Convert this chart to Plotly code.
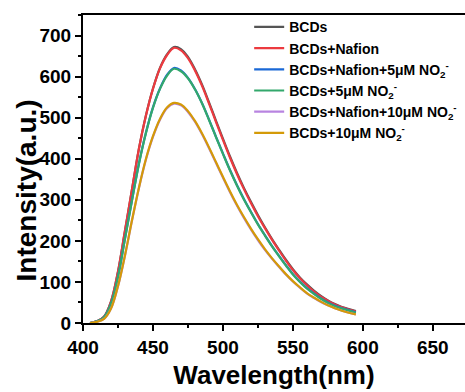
import plotly.graph_objects as go

wavelength = [405, 410, 415, 420, 425, 430, 435, 440, 445, 450, 455, 460, 465, 470, 475, 480,
              485, 490, 495, 500, 505, 510, 515, 520, 525, 530, 535, 540, 545, 550, 555, 560,
              565, 570, 575, 580, 585, 590, 595]

bcds = [0, 4, 15, 52, 125, 225, 325, 425, 506, 571, 621, 654, 672, 667, 648, 618,
        581, 538, 493, 449, 406, 366, 329, 295, 263, 233, 205, 179, 154, 131, 111, 94,
        79, 66, 55, 46, 39, 34, 29]
bcds_nafion = [0, 4, 15, 52, 125, 225, 325, 425, 505, 570, 620, 652, 670, 664, 645, 615,
               578, 535, 490, 446, 403, 363, 326, 292, 260, 231, 203, 177, 152, 129, 109, 92,
               77, 64, 54, 45, 38, 33, 28]
bcds_nafion_5 = [0, 4, 14, 47, 112, 206, 299, 389, 464, 525, 571, 604, 621, 615, 597, 570,
                 536, 496, 454, 413, 373, 336, 302, 271, 241, 214, 188, 164, 141, 119, 101, 85,
                 72, 60, 50, 42, 36, 31, 26]
bcds_5 = [0, 4, 14, 47, 112, 205, 298, 388, 463, 524, 570, 602, 619, 613, 596, 569,
          535, 495, 453, 412, 372, 335, 301, 270, 240, 213, 187, 163, 140, 118, 100, 84,
          71, 59, 49, 41, 35, 30, 25]
bcds_nafion_10 = [0, 3, 10, 35, 89, 164, 249, 329, 398, 453, 495, 523, 534, 530, 514, 490,
                  460, 426, 390, 354, 319, 286, 256, 228, 202, 178, 157, 137, 118, 101, 86, 72,
                  61, 51, 43, 36, 30, 25, 21]
bcds_10 = [0, 3, 10, 35, 90, 165, 250, 330, 400, 455, 497, 525, 536, 532, 516, 492,
           462, 428, 392, 356, 321, 288, 258, 230, 204, 180, 158, 138, 119, 102, 87, 73,
           62, 52, 43, 36, 30, 25, 21]

series_names = ["BCDs", "BCDs+Nafion", "BCDs+Nafion+5μM NO<sub>2</sub><sup>-</sup>",
                "BCDs+5μM NO<sub>2</sub><sup>-</sup>",
                "BCDs+Nafion+10μM NO<sub>2</sub><sup>-</sup>",
                "BCDs+10μM NO<sub>2</sub><sup>-</sup>"]
series_values = [bcds, bcds_nafion, bcds_nafion_5, bcds_5, bcds_nafion_10, bcds_10]
colors = ["#555555", "#ec3a3f", "#1a68d6", "#33a86c", "#b884e0", "#d49a08"]

x_ticks = [400, 450, 500, 550, 600, 650]
y_ticks = [0, 100, 200, 300, 400, 500, 600, 700]

FONT = "Arial, 'Liberation Sans', sans-serif"

fig = go.Figure()
for name, vals, col in zip(series_names, series_values, colors):
    fig.add_trace(go.Scatter(x=wavelength, y=vals, mode="lines", name=name,
                             line=dict(color=col, width=2.2, shape="spline", smoothing=1.0)))

fig.update_layout(
    width=465, height=392,
    margin=dict(l=83, r=0, t=15, b=69),
    paper_bgcolor="white", plot_bgcolor="white",
    font=dict(family=FONT, color="black"),
    showlegend=True,
    legend=dict(x=0.435, y=1.012, xanchor="left", yanchor="top",
                bgcolor="rgba(0,0,0,0)", borderwidth=0,
                font=dict(size=14, family=FONT, color="black", weight="bold"),
                itemwidth=30, tracegroupgap=0),
    annotations=[dict(text="<b>Intensity(a.u.)</b>", xref="paper", yref="paper",
                      x=-0.147, y=0.43, xanchor="center", yanchor="middle",
                      textangle=-90, showarrow=False,
                      font=dict(size=28, family=FONT, color="black"))],
)

fig.update_xaxes(
    range=[400, 673], tickvals=x_ticks, ticktext=["<b>%d</b>" % v for v in x_ticks],
    showline=True, linecolor="black", linewidth=2, mirror=True,
    ticks="outside", ticklen=6, tickwidth=2, tickcolor="black",
    minor=dict(ticks="outside", ticklen=3, tickwidth=2, tickcolor="black", dtick=25, tick0=400),
    showgrid=False, zeroline=False,
    tickfont=dict(size=19, family=FONT, color="black"),
    title=dict(text="<b>Wavelength(nm)</b>", standoff=9,
               font=dict(size=26, family=FONT, color="black")),
)
fig.update_yaxes(
    range=[0, 750], tickvals=y_ticks, ticktext=["<b>%d</b>" % v for v in y_ticks],
    showline=True, linecolor="black", linewidth=2, mirror=False,
    ticks="outside", ticklen=6, tickwidth=2, tickcolor="black",
    minor=dict(ticks="outside", ticklen=3, tickwidth=2, tickcolor="black", dtick=50, tick0=0),
    showgrid=False, zeroline=False,
    tickfont=dict(size=19, family=FONT, color="black"),
)

fig.write_html("out.html")
